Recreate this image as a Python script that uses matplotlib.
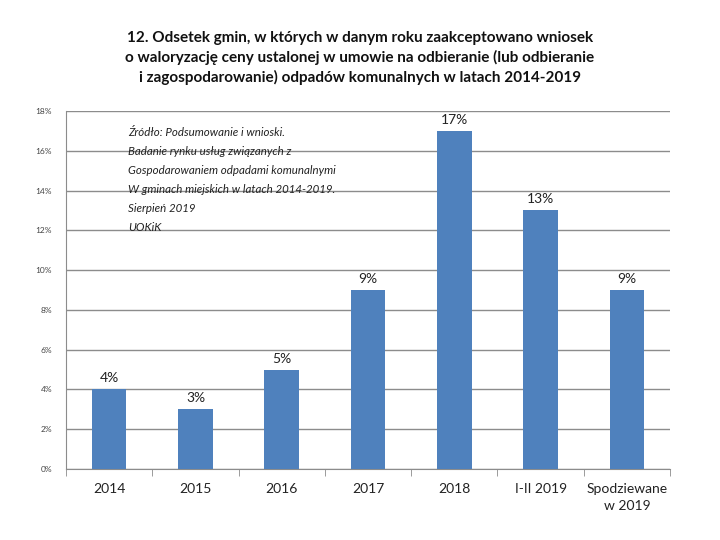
import matplotlib
matplotlib.use("Agg")
import matplotlib.pyplot as plt
import numpy as np

plt.rcParams["font.family"] = ["Lato", "DejaVu Sans"]

categories = ["2014", "2015", "2016", "2017", "2018", "I-II 2019", "Spodziewane\nw 2019"]
values = [4, 3, 5, 9, 17, 13, 9]
yticks = [0, 2, 4, 6, 8, 10, 12, 14, 16, 18]

title = ("12. Odsetek gmin, w których w danym roku zaakceptowano wniosek\n"
         "o waloryzację ceny ustalonej w umowie na odbieranie (lub odbieranie\n"
         "i zagospodarowanie) odpadów komunalnych w latach 2014-2019")
source = ["Źródło: Podsumowanie i wnioski.",
          "Badanie rynku usług związanych z",
          "Gospodarowaniem odpadami komunalnymi",
          "W gminach miejskich w latach 2014-2019.",
          "Sierpień 2019",
          "UOKiK"]

BAR = "#4F81BD"
GRID = "#8C8C8C"

fig = plt.figure(figsize=(7.2, 5.4), dpi=100)
ax = fig.add_axes([0.0917, 0.1315, 0.8389, 0.6629])

x = np.arange(len(categories))
ax.bar(x, values, width=0.4, color=BAR, zorder=3)
for xi, v in zip(x, values):
    ax.text(xi, v + 0.25, f"{v}%", ha="center", va="bottom", fontsize=10, color="#222222")

ax.set_xlim(-0.5, len(categories) - 0.5)
ax.set_ylim(0, 18)
ax.set_yticks(yticks)
ax.set_yticklabels([f"{t}%" for t in yticks], fontsize=6, color="#444444")
ax.yaxis.grid(True, color=GRID, linewidth=1, zorder=0)
ax.tick_params(axis="y", length=0, pad=10)

ax.set_xticks(x)
ax.set_xticklabels(categories, fontsize=10, color="#222222", linespacing=1.5)
ax.set_xticks(np.arange(-0.5, len(categories)), minor=True)
ax.tick_params(axis="x", which="major", length=0, pad=10)
ax.tick_params(axis="x", which="minor", length=5, color=GRID, direction="out")

for s in ["top", "right"]:
    ax.spines[s].set_visible(False)
ax.spines["left"].set_color(GRID)
ax.spines["bottom"].set_color(GRID)

for i, line in enumerate(source):
    ax.text(0.22, 16.9 - i * 0.95, line, fontsize=8.3, style="italic", color="#222222",
            va="center", zorder=4)

fig.text(0.5, 0.942, title, ha="center", va="top", fontsize=11, fontweight="bold",
         linespacing=1.4, color="#111111")

fig.savefig("out.png", dpi=100)
